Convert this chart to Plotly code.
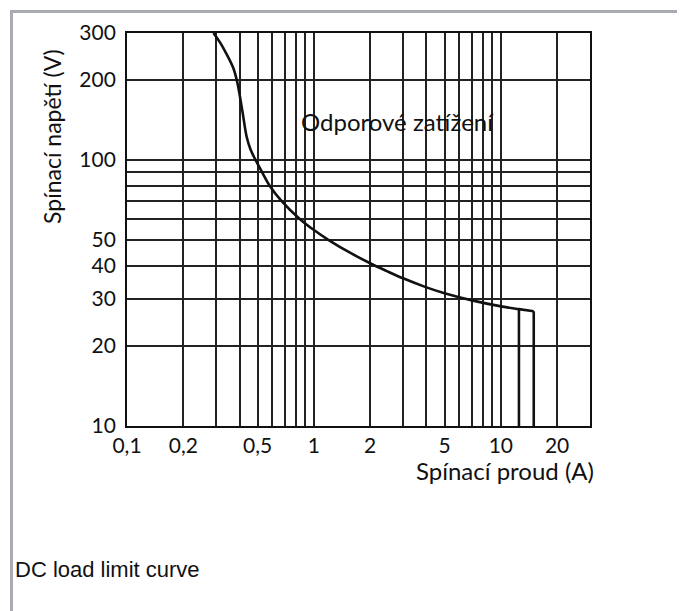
import plotly.graph_objects as go

# ---- data ----
curve_current = [0.29, 0.315, 0.341, 0.37, 0.389, 0.402, 0.416, 0.437, 0.457, 0.487,
                 0.528, 0.58, 0.672, 0.84, 1.0, 1.2, 1.56, 2.0, 2.44, 3.0,
                 4.0, 5.0, 7.1, 10.2, 12.5, 15.0]
curve_voltage = [300, 276, 250, 222, 196, 173, 150, 122, 110, 100,
                 90, 80, 70, 60, 54.5, 50.0, 44.8, 40.9, 38.3, 35.9,
                 33.2, 31.55, 29.6, 28.1, 27.5, 27.0]
drop_current = [12.5, 15.0]
drop_top_voltage = [27.5, 27.0]
drop_bottom_voltage = [10, 10]

x_tick_vals = [0.1, 0.2, 0.5, 1, 2, 5, 10, 20]
x_tick_text = ["0,1", "0,2", "0,5", "1", "2", "5", "10", "20"]
x_minor_vals = [0.3, 0.4, 0.6, 0.7, 0.8, 0.9, 3, 4, 6, 7, 8, 9]
y_tick_vals = [10, 20, 30, 40, 50, 100, 200, 300]
y_tick_text = ["10", "20", "30", "40", "50", "100", "200", "300"]
y_minor_vals = [60, 70, 80, 90]

x_title = "Spínací proud (A)"
y_title = "Spínací napětí (V)"
curve_label = "Odporové zatížení"
caption = "DC load limit curve"

FONT = "Lato"
INK = "#111111"
GRID = "#222222"

fig = go.Figure()
fig.add_trace(go.Scatter(
    x=curve_current, y=curve_voltage, mode="lines",
    line=dict(color=INK, width=2.6, shape="spline", smoothing=1.0),
    showlegend=False, hoverinfo="skip"))
for xc, yt, yb in zip(drop_current, drop_top_voltage, drop_bottom_voltage):
    fig.add_trace(go.Scatter(
        x=[xc, xc], y=[yt, yb], mode="lines",
        line=dict(color=INK, width=2.6),
        showlegend=False, hoverinfo="skip"))

grid = dict(showgrid=True, gridcolor=GRID, gridwidth=1.5)
minor_grid = dict(ticks="", showgrid=True, gridcolor=GRID, gridwidth=1.5)
fig.update_xaxes(
    type="log", range=[-1, 1.4771], tickmode="array",
    tickvals=x_tick_vals, ticktext=x_tick_text, ticks="",
    showline=True, linecolor=INK, linewidth=1.8, mirror=True,
    zeroline=False, tickfont=dict(family=FONT, size=21, color=INK),
    minor=dict(tickmode="array", tickvals=x_minor_vals, **minor_grid),
    **grid)
fig.update_yaxes(
    type="log", range=[1, 2.4771], tickmode="array",
    tickvals=y_tick_vals, ticktext=y_tick_text, ticks="",
    showline=True, linecolor=INK, linewidth=1.8, mirror=True,
    zeroline=False, tickfont=dict(family=FONT, size=21, color=INK),
    ticklabelstandoff=5,
    minor=dict(tickmode="array", tickvals=y_minor_vals, **minor_grid),
    **grid)

shapes = [
    # white patch behind the curve label (covers grid, under traces)
    dict(type="rect", xref="paper", yref="paper", x0=0.352, x1=0.667,
         y0=0.730, y1=0.817, fillcolor="white", line=dict(width=0),
         layer="between"),
    # gray page frame
    dict(type="line", xref="paper", yref="paper", x0=-0.2495, x1=-0.2495,
         y0=1.0547, y1=-0.50, line=dict(color="#a9abb2", width=3)),
    dict(type="line", xref="paper", yref="paper", x0=-0.2527, x1=1.25,
         y0=1.0547, y1=1.0547, line=dict(color="#a9abb2", width=3)),
]

annotations = [
    dict(text=curve_label, xref="paper", yref="paper", x=0.372, y=0.774,
         xanchor="left", yanchor="middle", showarrow=False,
         font=dict(family=FONT, size=24, color=INK)),
    dict(text=y_title, xref="paper", yref="paper", x=-0.162, y=0.738,
         textangle=-90, xanchor="center", yanchor="middle", showarrow=False,
         font=dict(family=FONT, size=23, color=INK)),
    dict(text=x_title, xref="paper", yref="paper", x=1.013, y=-0.112,
         xanchor="right", yanchor="middle", showarrow=False,
         font=dict(family=FONT, size=24, color=INK)),
    dict(text=caption, xref="paper", yref="paper", x=-0.246, y=-0.364,
         xanchor="left", yanchor="middle", showarrow=False,
         font=dict(family="Liberation Sans", size=22, color="#111111")),
]

# the page body adds an 8px offset, so margins are shifted to keep the
# plot area at the reference's pixel position
fig.update_layout(
    width=685, height=611,
    margin=dict(l=119, r=103, t=25, b=193, autoexpand=False),
    paper_bgcolor="white", plot_bgcolor="white",
    shapes=shapes, annotations=annotations, showlegend=False)

fig.write_html("out.html")
